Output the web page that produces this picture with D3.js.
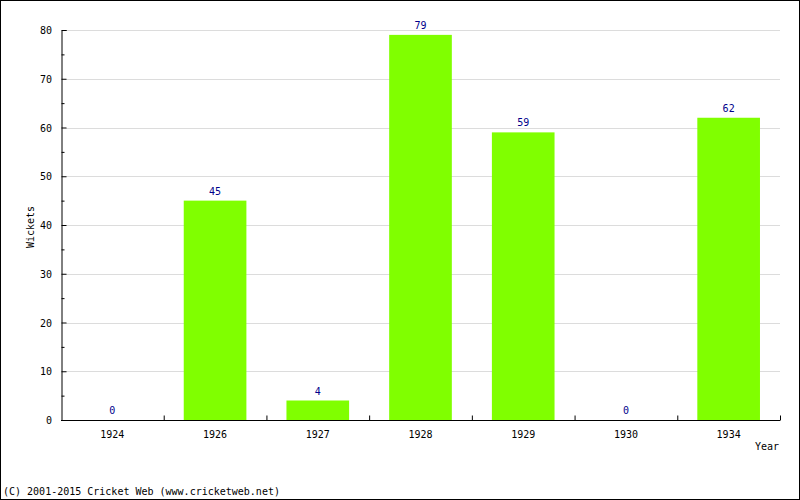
<!DOCTYPE html>
<html><head><meta charset="utf-8">
<script src="https://cdn.jsdelivr.net/npm/d3@7"></script>
<style>body{margin:0;background:#fff}text{font-family:"DejaVu Sans Mono",monospace;font-size:10px}</style>
</head><body><svg id="c" width="800" height="500"></svg>
<script>
const years = ["1924","1926","1927","1928","1929","1930","1934"];
const wickets = [0,45,4,79,59,0,62];
const yTicks = [0,10,20,30,40,50,60,70,80];
const minorTicks = [5,15,25,35,45,55,65,75];

const svg = d3.select("#c");
const L=61, R=780, T=30, B=420;
svg.append("rect").attr("x",0.5).attr("y",0.5).attr("width",799).attr("height",499).attr("fill","#fff").attr("stroke","#000");

const x = d3.scaleBand().domain(years).range([L,R]);
const y = d3.scaleLinear().domain([0,80]).range([B,T]);

// gridlines
svg.selectAll(".g").data(yTicks.slice(1)).join("line")
  .attr("x1",L+5).attr("x2",R).attr("y1",d=>Math.round(y(d))+0.5).attr("y2",d=>Math.round(y(d))+0.5)
  .attr("stroke","#dcdcdc");

// bars
const bw = x.bandwidth()*0.61;
svg.selectAll(".b").data(years).join("rect")
  .attr("x",(d,i)=>x(d)+x.bandwidth()/2-bw/2).attr("width",bw)
  .attr("y",(d,i)=>y(wickets[i])).attr("height",(d,i)=>B-y(wickets[i]))
  .attr("fill","#80ff00");

// value labels
svg.selectAll(".v").data(years).join("text")
  .attr("x",d=>x(d)+x.bandwidth()/2).attr("y",(d,i)=>y(wickets[i])-6)
  .attr("text-anchor","middle").attr("fill","#00008b").text((d,i)=>wickets[i]);

// y axis
const ya = svg.append("g").attr("transform",`translate(${L+0.5},0)`)
  .call(d3.axisRight(y).tickValues(yTicks).tickSize(5).tickFormat(""));
ya.select(".domain").attr("stroke","#000");
ya.selectAll(".tick line").attr("stroke","#000");
svg.append("g").attr("transform",`translate(${L+0.5},0)`)
  .call(d3.axisRight(y).tickValues(minorTicks).tickSize(3).tickFormat(""))
  .call(g=>g.select(".domain").remove());
svg.selectAll(".yl").data(yTicks).join("text")
  .attr("x",L-9).attr("y",d=>y(d)+4).attr("text-anchor","end").attr("fill","#000").text(d=>d);

// x axis
const xa = svg.append("g").attr("transform",`translate(0,${B+0.5})`)
  .call(d3.axisTop(d3.scaleLinear().domain([0,7]).range([L,R])).tickValues([1,2,3,4,5,6,7]).tickSize(5).tickFormat(""));
xa.select(".domain").attr("stroke","#000").attr("d",`M${L},0H${R}`);
svg.selectAll(".xl").data(years).join("text")
  .attr("x",d=>x(d)+x.bandwidth()/2).attr("y",438).attr("text-anchor","middle").text(d=>d);

svg.append("text").attr("x",779).attr("y",450).attr("text-anchor","end").text("Year");
svg.append("text").attr("transform","translate(34,227) rotate(-90)").attr("text-anchor","middle").text("Wickets");
svg.append("text").attr("x",3).attr("y",495).text("(C) 2001-2015 Cricket Web (www.cricketweb.net)");
</script></body></html>
